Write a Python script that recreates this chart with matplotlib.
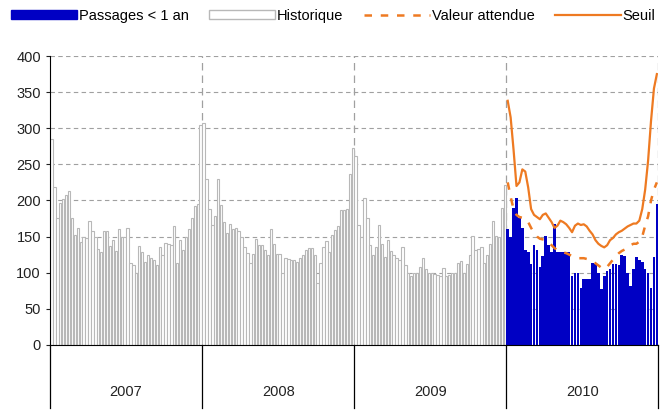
from matplotlib import pyplot as plt
from matplotlib.patches import Patch
from matplotlib.lines import Line2D
import numpy as np

plt.rcParams['font.family'] = ['Liberation Sans', 'DejaVu Sans']

years = ["2007", "2008", "2009", "2010"]

# weekly counts, historic years
hist_2007 = [285, 218, 175, 197, 202, 207, 213, 175, 152, 162, 143, 150, 148, 171, 157, 150, 133,
             128, 157, 157, 137, 145, 130, 160, 150, 150, 162, 113, 110, 100, 137, 128, 115, 125,
             120, 118, 110, 135, 125, 141, 140, 138, 165, 113, 145, 132, 150, 160, 175, 192, 195, 305]
hist_2008 = [307, 230, 188, 166, 178, 230, 193, 170, 155, 168, 160, 162, 158, 150, 135, 127,
             114, 126, 147, 138, 138, 132, 125, 160, 140, 126, 126, 100, 120, 119, 117, 117, 115, 120,
             125, 131, 134, 134, 124, 86, 113, 136, 144, 129, 152, 159, 165, 187, 187, 188, 237, 272]
hist_2009 = [262, 166, 150, 203, 176, 138, 125, 136, 166, 140, 122, 145, 130, 125, 120, 117, 136,
             110, 100, 95, 100, 100, 108, 120, 105, 100, 100, 98, 97, 95, 107, 95, 97, 100, 100, 113,
             116, 100, 112, 124, 151, 132, 133, 136, 114, 124, 140, 172, 151, 150, 190, 222]

# 2010 weekly counts, expected value and threshold
passages_2010 = [160, 149, 190, 204, 176, 162, 132, 128, 112, 138, 132, 108, 123, 151, 138, 128, 167,
                 128, 128, 128, 128, 128, 95, 100, 100, 79, 91, 91, 91, 114, 112, 100, 77, 95, 102,
                 105, 112, 112, 110, 125, 123, 100, 82, 105, 121, 118, 115, 105, 100, 79, 121, 195]
attendue_2010 = [225, 205, 188, 180, 177, 176, 175, 170, 162, 155, 150, 147, 146, 145, 142, 138, 134,
                 131, 129, 128, 127, 125, 123, 121, 120, 120, 120, 119, 118, 116, 113, 110, 107, 105,
                 108, 113, 118, 123, 127, 130, 132, 135, 138, 140, 140, 143, 150, 165, 178, 200, 215, 225]
seuil_2010 = [338, 315, 270, 220, 225, 243, 240, 218, 188, 180, 177, 174, 180, 182, 176, 170, 162,
              165, 172, 170, 167, 162, 156, 165, 168, 166, 167, 164, 158, 153, 145, 140, 137, 135,
              138, 145, 148, 153, 156, 158, 161, 164, 166, 168, 168, 172, 188, 215, 255, 310, 355, 375]

hist = hist_2007 + hist_2008 + hist_2009
n_hist = len(hist)
x_hist = np.arange(n_hist)
x_2010 = n_hist + np.arange(len(passages_2010))
n_total = n_hist + len(passages_2010)

orange = '#ee7a22'
blue = '#0000c4'

fig = plt.figure(figsize=(6.67, 4.12), dpi=100)
ax = fig.add_axes([0.075, 0.163, 0.912, 0.701])

ax.bar(x_hist, hist, width=0.8, color='white', edgecolor='#b8b8b8', linewidth=0.8, zorder=2)
ax.bar(x_2010, passages_2010, width=0.9, color=blue, edgecolor='none', zorder=2)
ax.plot(x_2010, attendue_2010, color=orange, lw=1.8, dashes=(3, 3.5), zorder=3)
ax.plot(x_2010, seuil_2010, color=orange, lw=1.6, zorder=4)

ax.set_xlim(-0.5, n_total - 0.5)
ax.set_ylim(0, 400)
ax.set_yticks(np.arange(0, 401, 50))
ax.yaxis.grid(True, color='#a0a0a0', linestyle=(0, (4, 3)), linewidth=0.8)
ax.set_axisbelow(True)
ax.set_xticks([])
ax.tick_params(axis='y', length=3, labelsize=10.5, colors='#222222')
for s in ['top', 'right']:
    ax.spines[s].set_visible(False)

# year separators: dashed inside the plot, solid below the axis
xt = ax.get_xaxis_transform()
for k in range(1, 5):
    b = k * 52 - 0.5
    ax.plot([b, b], [0, 1], transform=xt, color='#a0a0a0', lw=0.9, linestyle=(0, (6, 4)), zorder=1)
for k in range(0, 5):
    b = k * 52 - 0.5
    ax.plot([b, b], [0, -0.22], transform=xt, color='black', lw=0.9, clip_on=False)
for k, yr in enumerate(years):
    ax.text(k * 52 + 25.5, -0.165, yr, transform=xt, ha='center', va='center', fontsize=10.5,
            color='#222222')

handles = [Patch(facecolor=blue, edgecolor=blue),
           Patch(facecolor='white', edgecolor='#b8b8b8'),
           Line2D([], [], color=orange, lw=1.8, dashes=(3, 3.5)),
           Line2D([], [], color=orange, lw=1.6)]
labels = ["Passages < 1 an", "Historique", "Valeur attendue", "Seuil"]
fig.legend(handles, labels, loc='upper center', bbox_to_anchor=(0.5, 1.01), ncol=4, frameon=False,
           fontsize=10.5, handlelength=4.5, handletextpad=0.15, columnspacing=1.4, handleheight=0.6)

fig.savefig('out.png', dpi=100)
